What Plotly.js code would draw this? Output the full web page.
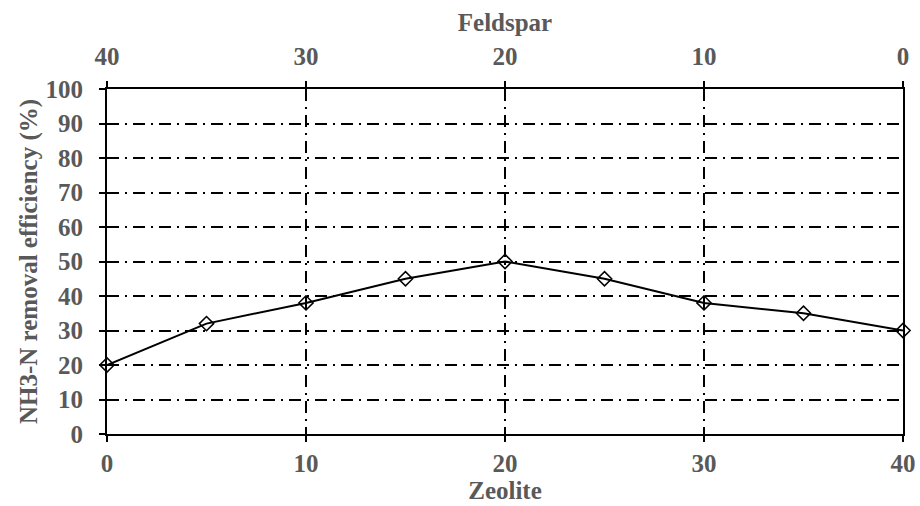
<!DOCTYPE html>
<html><head><meta charset="utf-8">
<script src="https://cdn.plot.ly/plotly-3.0.1.min.js"></script>
<style>html,body{margin:0;padding:0;background:#fff}</style>
</head><body><div id="chart" style="width:920px;height:506px"></div>
<script>
const zeolite = [0, 5, 10, 15, 20, 25, 30, 35, 40];
const efficiency = [20, 32, 38, 45, 50, 45, 38, 35, 30];
const feldsparTicks = [40, 30, 20, 10, 0];
const zeoliteTicks = [0, 10, 20, 30, 40];
const yTicks = [0,10,20,30,40,50,60,70,80,90,100];

const bold = v => '<b>' + v + '</b>';
const txt = '#595959';
const fnt = {family: 'Times New Roman, Liberation Serif, serif', size: 25, color: txt};
const grid = {gridcolor: '#000', gridwidth: 2, griddash: '12px,6px,2px,6px'};

const data = [
  {x: zeolite, y: efficiency, type: 'scatter', mode: 'lines+markers',
   line: {color: '#000', width: 2},
   marker: {symbol: 'diamond-open', size: 11, color: '#000', line: {width: 1.5, color: '#000'}},
   cliponaxis: false, showlegend: false, xaxis: 'x', yaxis: 'y'},
  {x: feldsparTicks, y: [null,null,null,null,null], type: 'scatter', mode: 'lines', showlegend: false, xaxis: 'x2', yaxis: 'y', hoverinfo: 'skip'},
  {x: [null], y: [null], xaxis: 'x3', yaxis: 'y2', showlegend: false, hoverinfo: 'skip'},
  {x: [null], y: [null], xaxis: 'x4', yaxis: 'y3', showlegend: false, hoverinfo: 'skip'}
];

const layout = {
  width: 920, height: 506,
  margin: {l: 107, r: 17, t: 89, b: 72},
  paper_bgcolor: '#fff', plot_bgcolor: '#fff',
  font: fnt,
  xaxis: {range: [0, 40], tickvals: zeoliteTicks, ticktext: zeoliteTicks.map(bold), ticks: 'outside', ticklen: 6, tickwidth: 2, tickcolor: '#000',
          showline: true, linecolor: '#000', linewidth: 2, zeroline: false, showgrid: true, ...grid,
          tickfont: fnt, ticklabelstandoff: 0, title: {text: bold('Zeolite'), font: fnt, standoff: 2}},
  xaxis2: {range: [40, 0], overlaying: 'x', side: 'top', tickvals: feldsparTicks, ticktext: feldsparTicks.map(bold), ticks: 'outside', ticklen: 6, tickwidth: 2, tickcolor: '#000',
           showline: true, linecolor: '#000', linewidth: 2, zeroline: false, showgrid: false,
           tickfont: fnt, ticklabelstandoff: 6, title: {text: bold('Feldspar'), font: fnt, standoff: 4}},
  xaxis3: {range: [0, 40], overlaying: 'x', tickvals: zeoliteTicks, ticks: 'inside', ticklen: 6, tickwidth: 2, tickcolor: '#000', showticklabels: false, showgrid: false, zeroline: false},
  xaxis4: {range: [40, 0], overlaying: 'x', side: 'top', tickvals: feldsparTicks, ticks: 'inside', ticklen: 6, tickwidth: 2, tickcolor: '#000', showticklabels: false, showgrid: false, zeroline: false},
  yaxis: {range: [0, 100], tickvals: yTicks, ticktext: yTicks.map(bold), ticks: 'outside', ticklen: 6, tickwidth: 2, tickcolor: '#000',
          showline: true, linecolor: '#000', linewidth: 2, zeroline: false, showgrid: true, ...grid,
          tickfont: fnt, ticklabelstandoff: 11, title: {text: bold('NH3-N removal efficiency (%)'), font: fnt, standoff: 1}},
  yaxis2: {range: [0, 100], overlaying: 'y', tickvals: yTicks, ticks: 'inside', ticklen: 6, tickwidth: 2, tickcolor: '#000', showticklabels: false, showgrid: false, zeroline: false},
  yaxis3: {range: [0, 100], overlaying: 'y', side: 'right', showline: true, linecolor: '#000', linewidth: 2, ticks: '', showticklabels: false, showgrid: false, zeroline: false}
};
Plotly.newPlot('chart', data, layout, {displayModeBar: false, staticPlot: true});
</script></body></html>
